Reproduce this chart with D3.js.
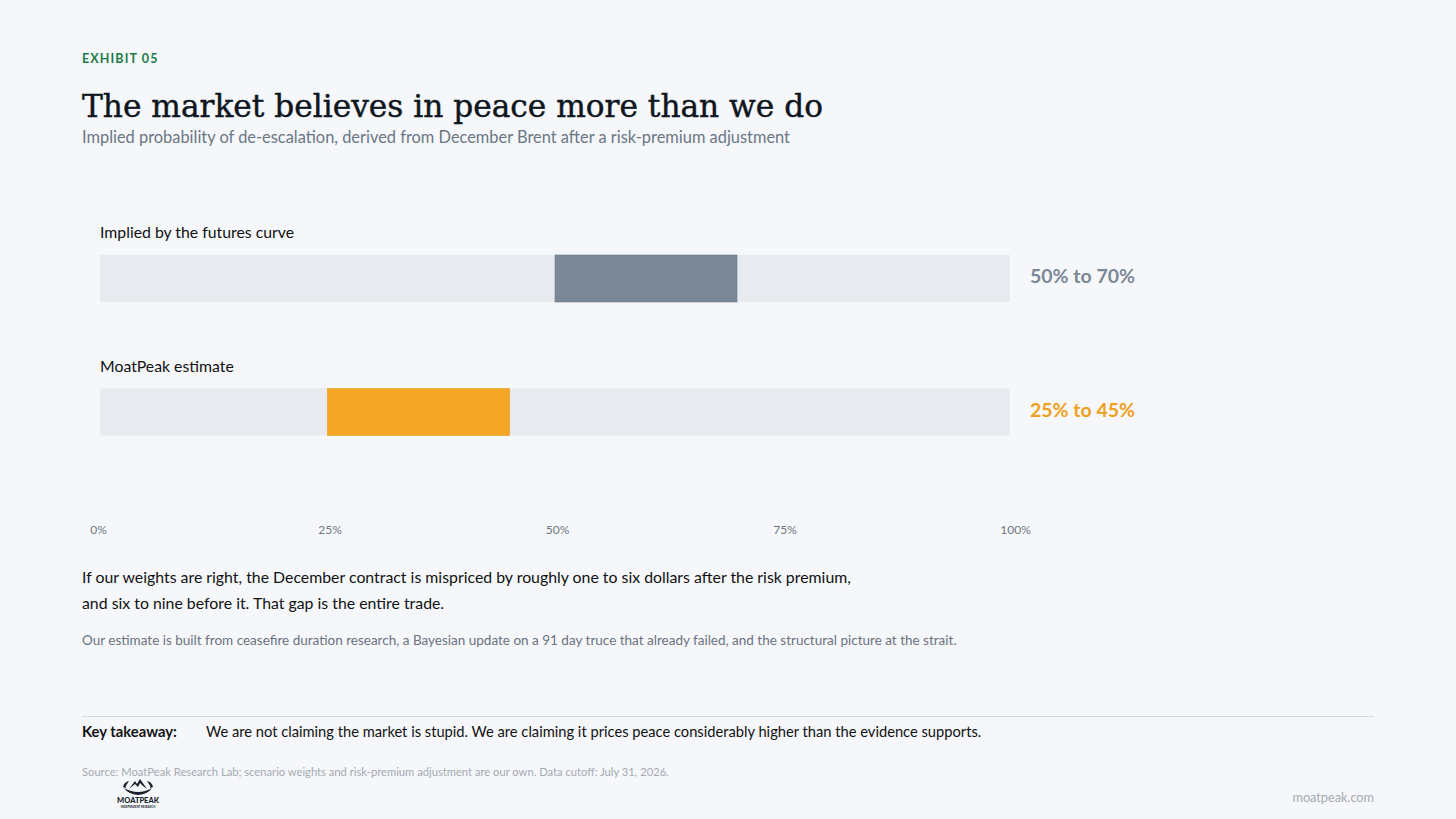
<!DOCTYPE html>
<html><head><meta charset="utf-8">
<script src="https://cdn.jsdelivr.net/npm/d3@7"></script>
<style>
html,body{margin:0;padding:0;background:#f5f7fa;}
svg{display:block;}
</style></head>
<body>
<svg id="chart" width="1456" height="819"></svg>
<script>
const categories = ["Implied by the futures curve", "MoatPeak estimate"];
const lowValues = [50, 25];
const highValues = [70, 45];
const rangeLabels = ["50% to 70%", "25% to 45%"];
const tickValues = [0, 25, 50, 75, 100];
const tickLabels = ["0%", "25%", "50%", "75%", "100%"];
const barColors = ["#7b8996", "#f4a626"];
const labelColors = ["#7b8896", "#f0a020"];

const SANS = "Lato, 'Open Sans', sans-serif";
const SERIF = "'DejaVu Serif', 'Liberation Serif', serif";

const svg = d3.select("#chart");
svg.append("rect").attr("width",1456).attr("height",819).attr("fill","#f5f7fa");

function txt(xp, yp, s, size, fill, weight, family){
  return svg.append("text").attr("x",xp).attr("y",yp).text(s)
    .style("font-family", family||SANS).style("font-size", size+"px")
    .style("font-weight", weight||400).attr("fill", fill);
}

// header
txt(82,63,"EXHIBIT 05",12.5,"#1b7d4a",700).style("letter-spacing","1.1px");
txt(82,117,"The market believes in peace more than we do",31.5,"#0f1620",400,SERIF)
  .attr("textLength",741).attr("lengthAdjust","spacingAndGlyphs")
  .attr("stroke","#0f1620").attr("stroke-width",0.45);
txt(82,143,"Implied probability of de-escalation, derived from December Brent after a risk-premium adjustment",16.4,"#6b7685");

const x = d3.scaleLinear().domain([0,100]).range([100,1010]);
const y = d3.scaleBand().domain(categories).range([221,488]).paddingInner(0).paddingOuter(0);

categories.forEach((c,i)=>{
  const top = y(c);
  txt(100, top+17, c, 15.8, "#111");
  svg.append("rect").attr("x",x(0)).attr("y",top+34).attr("width",x(100)-x(0)).attr("height",47)
    .attr("fill","#e7eaee");
  svg.append("rect").attr("x",x(lowValues[i])).attr("y",top+34)
    .attr("width",x(highValues[i])-x(lowValues[i])).attr("height",47)
    .attr("fill",barColors[i]).attr("stroke", i===0?"#6c7a88":"#e8991a").attr("stroke-width",0.6);
  txt(1030, top+62, rangeLabels[i], 19.5, labelColors[i], 700);
});

// axis
const axis = d3.axisBottom(x).tickValues(tickValues).tickFormat((d,i)=>tickLabels[i]).tickSize(0).tickPadding(0);
const ax = svg.append("g").attr("transform","translate(0,525)").call(axis);
ax.select(".domain").remove();
ax.selectAll("text").style("font-family",SANS).style("font-size","12px").attr("fill","#6f7781")
  .attr("dx",(d)=> d===0? -2 : (d===100?5:2));

// commentary
txt(82,583,"If our weights are right, the December contract is mispriced by roughly one to six dollars after the risk premium,",15.85,"#111");
txt(82,609,"and six to nine before it. That gap is the entire trade.",15.85,"#111");
txt(82,645,"Our estimate is built from ceasefire duration research, a Bayesian update on a 91 day truce that already failed, and the structural picture at the strait.",13.5,"#6b7280");

svg.append("line").attr("x1",82).attr("x2",1374).attr("y1",716.5).attr("y2",716.5)
  .attr("stroke","#d5d9df").attr("stroke-width",1);
txt(82,737,"Key takeaway:",14.8,"#111",700);
txt(206,737,"We are not claiming the market is stupid. We are claiming it prices peace considerably higher than the evidence supports.",14.7,"#111");

txt(82,776,"Source: MoatPeak Research Lab; scenario weights and risk-premium adjustment are our own. Data cutoff: July 31, 2026.",11.2,"#a4aab2");

// logo
const logo = svg.append("g").attr("transform","translate(138,790)");
logo.append("path").attr("d","M-14,-2 Q0,6 14,-2 Q10,4 0,5 Q-10,4 -14,-2 Z").attr("fill","#1a1f2b");
logo.append("path").attr("d","M-15,-3 Q-14,-8 -9,-9 L-11,-6 Q-13,-4 -12,-2 Z").attr("fill","#1a1f2b");
logo.append("path").attr("d","M15,-3 Q14,-8 9,-9 L11,-6 Q13,-4 12,-2 Z").attr("fill","#1a1f2b");
logo.append("path").attr("d","M-9,-1 L-3,-9 L-1,-6 L2,-11 L9,-1 L5,-4 L2,-7 L0,-3 L-3,-6 Z").attr("fill","#1a1f2b");
logo.append("text").attr("x",0).attr("y",13).attr("text-anchor","middle").text("MOATPEAK")
  .style("font-family",SANS).style("font-size","7.5px").style("font-weight",900).attr("fill","#1a1f2b");
logo.append("text").attr("x",0).attr("y",17.5).attr("text-anchor","middle").text("INDEPENDENT RESEARCH")
  .style("font-family",SANS).style("font-size","2.8px").style("font-weight",700).attr("fill","#1a1f2b");

txt(1374,802,"moatpeak.com",12.7,"#a4aab2").attr("text-anchor","end");
</script>
</body></html>
